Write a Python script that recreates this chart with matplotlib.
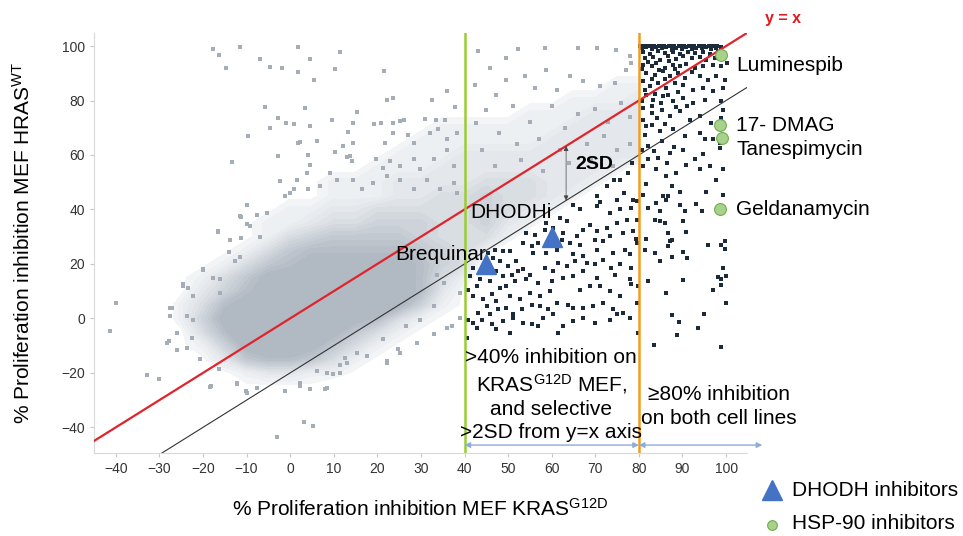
import numpy as np
import matplotlib.pyplot as plt
from matplotlib.lines import Line2D
from matplotlib.colors import LinearSegmentedColormap, Normalize

plt.rcParams['font.family'] = ['Liberation Sans', 'DejaVu Sans']
plt.rcParams['mathtext.fontset'] = 'custom'
plt.rcParams['mathtext.rm'] = 'Liberation Sans'
plt.rcParams['mathtext.it'] = 'Liberation Sans:italic'
plt.rcParams['mathtext.bf'] = 'Liberation Sans:bold'

# ── Data ──────────────────────────────────────────────────────────────────────
# density of the unselected compound cloud (0 = empty, 9 = solid)
grid_x = [-30, -25, -20, -15, -10, -5, 0, 5, 10, 15, 20, 25, 30, 35, 40,
          45, 50, 55, 60, 65, 70, 75, 80]
grid_y = [90, 85, 80, 75, 70, 65, 60, 55, 50, 45, 40, 35, 30, 25, 20, 15,
          10, 5, 0, -5, -10, -15, -20, -25, -30]
density_rows = [
    "000000000000000" "00011111",
    "000000000000000" "00111122",
    "000000000000011" "11112223",
    "000000000000111" "11222333",
    "000000000001122" "22223333",
    "000000000011222" "22233333",
    "000000000112223" "33333333",
    "000000001122233" "33333320",
    "000000012223333" "44433200",
    "000000112223344" "54432000",
    "000001223344444" "54320000",
    "000012234455544" "53200000",
    "000112456666544" "42000000",
    "000124677777654" "20000000",
    "001246788888754" "00000000",
    "012468888888742" "00000000",
    "013578999998731" "00000000",
    "024789999998521" "00000000",
    "025899999874211" "00000000",
    "014799998642110" "00000000",
    "012589986421100" "00000000",
    "001367764210000" "00000000",
    "000123322100000" "00000000",
    "000011110000000" "00000000",
    "000000000000000" "00000000",
]

# sparse unselected compounds (KRAS inhibition, HRAS inhibition)
gray_pts = [
    (-17.6, 98.8), (-16.4, 96.7), (-14.7, 92.0), (-11.6, 99.5), (-7.0, 95.2), (-4.7, 92.4),
    (-1.9, 92.0), (1.8, 90.3), (1.9, 99.7), (4.6, 95.2), (5.4, 87.5), (10.2, 91.7),
    (11.5, 97.9), (21.6, 91.0), (-5.7, 77.5), (-9.6, 67.0), (-13.4, 57.3), (3.3, 77.4),
    (-2.7, 73.5), (-4.6, 70.0), (2.3, 64.9), (15.3, 75.9), (22.2, 80.2), (23.7, 80.8),
    (35.9, 83.6), (32.6, 80.2), (37.8, 77.8), (-16.6, 31.7), (-13.9, 28.9), (-11.3, 29.5),
    (-11.3, 37.2), (-9.8, 34.8), (-7.6, 38.0), (-2.7, 59.8), (4.2, 60.1), (13.8, 59.7),
    (-0.9, 71.8), (0.9, 71.5), (4.6, 70.8), (9.6, 72.8), (14.5, 71.8), (19.3, 71.5),
    (20.8, 71.8), (23.7, 71.8), (25.1, 72.4), (26.1, 72.8), (31.0, 73.3), (33.5, 72.8),
    (35.5, 72.8), (13.2, 68.6), (14.5, 64.5), (12.2, 63.3), (21.8, 64.5), (23.7, 68.1),
    (27.1, 67.5), (28.3, 64.5), (32.1, 68.1), (34.0, 69.4), (36.0, 65.7), (38.2, 68.1),
    (1.9, 64.5), (6.1, 65.1), (10.3, 61.0), (13.0, 59.3), (14.1, 57.7), (19.7, 58.6),
    (21.4, 55.3), (23.0, 57.7), (25.2, 55.9), (28.3, 58.4), (29.8, 54.7), (32.9, 58.4),
    (36.0, 62.0), (37.5, 55.9), (4.6, 56.5), (3.8, 53.5), (1.5, 51.0), (-2.3, 50.4),
    (-1.1, 44.9), (0.8, 47.4), (4.2, 47.4), (6.9, 48.6), (9.2, 53.5), (10.7, 51.0),
    (14.5, 51.0), (16.4, 47.4), (19.1, 49.8), (22.2, 52.3), (25.2, 51.0), (28.3, 47.4),
    (31.3, 51.0), (34.4, 47.4), (37.5, 49.8), (38.2, 46.1),
    (-16.5, 32.0), (-19.9, 18.0), (-24.5, 11.9), (-27.5, 4.0), (-23.7, 0.8), (-22.2, 8.2),
    (-9.2, 33.8), (-5.3, 38.8), (0.0, 46.0), (-11.5, 22.7), (-14.0, 24.5), (-7.0, 30.0),
    (-39.9, 5.7), (-41.3, -4.6), (-32.9, -20.9), (-30.0, -22.1), (-24.6, 12.5), (-23.5, 11.2),
    (-27.1, 3.9), (-27.9, -8.3), (-26.0, -11.6), (-18.2, -24.8), (-12.2, -24.2), (-10.1, -26.6),
    (-7.6, -25.4), (-1.1, -26.6), (2.3, -24.8), (4.6, -26.0), (8.0, -25.8), (3.2, -38.0),
    (5.2, -39.4), (-3.1, -43.7), (12.6, -14.4), (9.9, -20.5), (22.2, -15.6), (24.8, -11.4),
    (32.9, -5.9), (37.1, -2.8), (35.2, 13.1), (33.6, 16.1), (39.0, 9.4), (29.8, -0.4),
    (26.6, -2.8), (21.4, -7.7), (29.1, -8.9), (-19.9, 17.9), (-17.6, 14.9), (-16.1, 9.4),
    (-22.2, -0.4), (-22.5, -7.1), (-23.7, -10.7), (-20.6, -15.0), (-16.4, -18.7), (11.5, -17.2),
    (6.1, -19.3), (15.3, -12.6), (-18.3, -25.0), (-12.2, -23.8), (-9.9, -27.3), (2.3, -23.6),
    (8.4, -25.4), (22.2, -16.2), (25.2, -12.6), (35.9, -3.4), (39.0, 0.3), (32.9, 4.5),
    (17.6, -13.8), (13.0, -16.2), (11.5, -19.9), (8.4, -19.9), (-27.5, 0.8), (-26.0, -5.2),
    (-28.3, -8.9), (-11.5, 37.5), (-12.6, 21.0), (-16.1, 14.3), (-9.9, 41.8),
    (52.3, 98.9), (58.4, 99.3), (66.0, 99.3), (70.3, 99.3), (74.8, 98.6), (43.1, 98.0),
    (49.6, 95.6), (77.9, 96.2), (42.4, 85.8), (47.3, 82.2), (49.6, 87.7), (53.8, 88.9),
    (56.1, 84.6), (61.1, 84.0), (64.1, 88.9), (67.2, 87.0), (71.0, 85.2), (74.5, 86.4),
    (77.1, 91.3), (78.3, 93.8), (58.8, 91.3), (45.8, 91.9), (42.7, 71.8), (45.0, 76.7),
    (51.1, 77.9), (55.0, 72.0), (60.0, 78.0), (63.0, 70.0), (66.0, 75.0), (70.0, 77.0),
    (73.0, 72.0), (76.0, 79.0), (78.0, 74.0), (48.0, 68.0), (52.0, 64.0), (57.0, 66.0),
    (62.0, 62.0), (68.0, 64.0), (72.0, 67.0), (75.0, 62.0), (44.0, 62.0), (47.0, 56.0),
    (53.0, 58.0), (58.0, 54.0), (64.0, 57.0), (69.0, 58.0), (74.0, 56.0), (78.0, 64.0),
]

# selected compounds (>40% on KRAS and >2SD below y=x, or >=80% on both)
sel_pts = [
    (75.7, 50.9), (77.6, 53.4), (78.4, 57.0), (74.2, 50.9), (72.6, 48.5), (76.5, 46.0),
    (74.9, 43.6), (70.3, 44.8), (78.7, 43.6),
    (64.9, 41.8), (66.6, 40.0), (70.3, 41.2), (71.1, 42.6), (73.4, 38.7), (75.7, 40.0),
    (78.3, 40.5), (61.9, 36.9), (63.4, 35.7), (68.8, 34.4), (67.2, 32.6), (70.3, 32.0),
    (72.6, 33.2), (74.9, 35.0), (77.2, 36.3), (58.8, 35.1), (60.4, 33.2), (62.6, 31.4),
    (65.7, 30.2), (58.4, 32.6), (56.1, 30.8), (54.2, 31.4), (53.5, 27.7), (55.4, 26.5),
    (56.9, 27.7), (59.6, 28.3), (62.3, 28.9), (64.2, 27.7), (66.5, 27.1), (69.9, 28.9),
    (71.8, 28.3), (73.4, 30.2), (76.4, 31.4), (78.7, 32.0), (55.8, 24.1), (58.8, 24.1),
    (61.1, 25.3), (64.9, 23.5), (67.2, 22.8), (70.3, 25.3), (74.1, 24.1), (76.8, 25.3),
    (77.9, 23.5), (79.5, 27.7), (47.0, 25.0), (48.9, 24.7), (50.4, 24.7), (51.9, 21.0),
    (53.5, 18.0), (52.3, 17.3), (50.0, 19.2), (48.1, 21.0), (46.6, 22.2), (45.4, 24.1),
    (47.3, 17.3), (48.9, 15.5), (50.8, 16.1), (44.3, 17.3), (42.0, 18.6), (41.2, 15.5),
    (43.5, 14.3), (45.8, 13.7), (42.8, 11.9), (40.8, 10.6), (42.0, 8.2), (44.3, 7.0),
    (46.2, 8.8), (48.1, 11.2), (49.6, 11.9), (51.6, 13.7), (54.2, 14.3), (55.0, 16.1),
    (56.9, 13.1), (58.4, 18.6), (60.4, 17.3), (60.0, 13.7), (61.5, 20.4), (63.4, 19.2),
    (65.3, 21.0), (68.0, 20.4), (69.9, 19.8), (71.8, 21.6), (73.7, 18.6), (75.7, 19.8),
    (78.3, 18.6), (62.6, 14.9), (64.9, 15.5), (67.2, 17.3), (70.3, 14.9), (74.5, 16.1),
    (77.9, 14.3), (66.5, 10.6), (68.8, 11.9), (71.1, 11.9), (73.4, 10.0), (75.7, 8.2),
    (78.3, 12.5), (59.6, 10.0), (57.3, 8.2), (55.0, 9.4), (52.7, 7.0), (50.4, 8.2),
    (47.3, 6.4), (45.1, 4.5), (43.1, 2.1), (42.0, -1.6), (40.8, -0.4), (43.9, -0.4),
    (45.8, 1.5), (47.7, 3.3), (49.6, 3.9), (51.2, 1.5), (53.1, 3.3), (55.4, 5.1),
    (57.3, 4.5), (59.2, 3.3), (61.1, 5.7), (63.8, 5.1), (64.9, 3.9), (67.2, 3.9),
    (69.5, 4.5), (71.8, 5.7), (74.1, 3.3), (76.4, 2.1), (77.9, 0.3), (42.8, -3.4),
    (46.2, -2.2), (48.9, -1.0), (51.2, 0.3), (53.5, -1.6), (55.4, -2.2), (58.1, 0.3),
    (60.4, 1.5), (62.6, -2.8), (64.9, -1.0), (67.2, 0.3), (69.9, -1.6), (73.4, -0.4),
    (74.9, 1.5), (61.5, -5.2), (56.9, -2.8), (47.3, -4.0), (40.5, -7.1), (50.4, -5.2),
    (79.5, 43.0), (79.6, 36.0), (79.4, 29.0), (79.7, 12.0), (79.5, 5.7), (79.8, -5.3),
    # >= 80 on both
    (80.3, 100), (81.1, 100), (82.0, 100), (82.6, 100), (83.4, 100), (84.5, 100),
    (85.0, 100), (85.8, 100), (86.9, 100), (87.2, 100), (88.0, 100), (89.1, 100),
    (89.5, 100), (90.3, 100), (91.4, 100), (92.0, 100), (92.7, 100), (93.8, 100),
    (94.1, 100), (95.0, 100), (96.0, 100), (96.4, 100), (97.3, 100), (98.0, 100),
    (80.6, 99.3), (81.7, 99.6), (82.9, 98.9), (84.0, 99.5), (85.2, 99.1), (86.3, 99.6),
    (87.5, 98.7), (88.6, 99.4), (89.8, 99.0), (90.9, 99.6), (92.1, 98.8), (93.2, 99.4),
    (94.4, 99.1), (95.5, 99.5), (96.6, 98.9), (97.8, 99.4), (98.9, 99.6),
    (81.0, 97.7), (82.5, 97.2), (84.4, 98.0), (86.0, 97.4), (87.9, 97.7), (89.4, 97.2),
    (91.3, 97.9), (92.8, 97.4), (94.7, 97.7), (96.3, 97.2), (98.2, 97.9),
    (81.3, 95.6), (83.3, 96.0), (84.8, 95.0), (86.7, 96.2), (88.6, 95.2), (90.1, 96.2),
    (92.1, 95.5), (94.0, 96.0), (95.5, 95.0), (97.4, 95.6), (99.3, 96.2),
    (81.0, 93.2), (82.9, 92.6), (84.0, 93.8), (86.0, 92.0), (87.9, 93.2), (89.4, 92.6),
    (90.9, 93.5), (92.8, 92.0), (94.7, 92.8), (97.0, 93.2), (98.9, 92.6), (100.3, 93.8),
    (81.7, 90.1), (83.6, 89.5), (85.6, 90.7), (87.1, 88.9), (89.0, 90.1), (90.5, 88.3),
    (92.1, 90.3), (94.0, 88.9), (95.9, 87.7), (97.8, 89.1), (99.7, 87.7),
    (81.0, 87.1), (82.5, 85.2), (84.4, 86.4), (86.3, 84.6), (88.2, 86.4), (90.1, 85.8),
    (92.4, 84.0), (94.7, 84.6), (97.0, 83.4), (99.3, 84.6),
    (81.7, 82.2), (83.3, 80.3), (85.6, 81.6), (87.9, 79.7), (90.1, 81.0), (92.4, 79.1),
    (95.1, 80.3), (98.9, 79.7), (81.0, 77.3), (82.9, 75.5), (85.2, 76.7), (87.1, 74.2),
    (89.4, 76.1), (91.7, 73.0), (94.0, 74.2), (96.6, 71.8), (99.3, 76.7), (98.9, 73.6),
    (81.7, 70.6), (84.8, 68.8), (87.9, 69.4), (90.5, 66.9), (94.0, 68.1), (97.0, 65.7),
    (95.1, 65.7), (98.6, 64.5), (82.1, 63.3), (84.4, 59.0), (87.1, 60.8), (90.1, 62.0),
    (92.8, 58.4), (94.7, 60.2), (98.6, 62.6), (81.0, 55.9), (84.0, 54.7), (86.3, 52.3),
    (88.6, 53.5), (90.9, 56.5), (94.0, 54.7), (96.3, 55.9), (97.8, 51.0), (99.3, 54.7),
    (81.7, 49.2), (87.5, 48.6),
    (80.8, 91.5), (82.2, 94.3), (83.0, 88.0), (84.6, 91.2), (85.9, 87.9), (86.8, 94.5),
    (88.3, 91.6), (81.5, 84.0), (83.8, 82.5), (85.0, 79.0), (86.7, 81.9), (88.9, 83.2),
    (80.6, 79.8), (82.9, 78.0), (84.1, 73.5), (86.0, 71.5), (80.9, 73.0), (83.1, 71.0),
    (88.5, 77.5), (91.0, 78.0), (81.4, 67.5), (85.4, 65.0), (88.0, 63.0), (83.5, 61.5),
    (82.0, 58.5), (80.7, 62.0), (86.5, 57.0),
    (81.0, 45.4), (85.6, 44.8), (86.7, 45.0), (89.4, 46.3), (95.5, 46.3), (99.3, 45.4),
    (82.1, 40.5), (84.0, 42.4), (84.8, 39.3), (86.3, 43.6), (89.4, 41.8), (90.5, 39.3),
    (93.2, 42.1), (94.4, 39.3), (83.6, 36.3), (84.8, 35.7), (86.0, 35.0), (90.1, 35.7),
    (86.7, 31.4), (90.9, 31.6), (81.7, 29.2), (87.1, 28.3), (87.7, 28.7), (86.7, 26.5),
    (81.3, 25.3), (83.6, 24.1), (84.9, 21.2), (87.5, 22.5), (90.1, 24.3), (91.1, 22.2),
    (95.9, 27.1), (98.9, 27.1), (99.7, 28.6), (99.7, 25.6), (99.3, 18.6), (98.2, 15.3),
    (98.9, 14.3), (99.9, 15.7), (98.8, 12.1), (97.0, 10.3), (90.1, 14.0), (82.1, 13.9),
    (86.2, 9.3), (99.9, 5.7), (87.5, 1.2), (95.0, 1.8), (89.2, -1.3), (93.6, -3.4),
    (88.8, -6.1), (83.5, -9.7), (98.8, -10.5),
]

dhodh_names = ['Brequinar', 'DHODHi']
dhodh_x = [45, 60]
dhodh_y = [20, 30]

hsp_names = ['Luminespib', '17- DMAG', 'Tanespimycin', 'Geldanamycin']
hsp_x = [98.8, 98.6, 99.0, 98.6]
hsp_y = [96.7, 71.0, 66.2, 40.0]

two_sd = 20      # offset of the selectivity line from y = x
kras_cut = 40    # % inhibition on KRAS G12D MEF
both_cut = 80    # % inhibition on both lines

# ── Figure ────────────────────────────────────────────────────────────────────
fig = plt.figure(figsize=(9.63, 5.36), dpi=100)
ax = fig.add_axes([0.0976, 0.1549, 0.6781, 0.7836])
ax.set_xlim(-45, 104.8)
ax.set_ylim(-49.4, 104.8)

# cloud shading, light where compounds are sparse, darker in the crowded core
density = np.array([[int(c) for c in row] for row in density_rows])
cloud_cmap = LinearSegmentedColormap.from_list(
    'cloud', ['#f2f4f6', '#dfe3e7', '#c8ced5', '#b1b9c2'])
ax.contourf(grid_x, grid_y, density, levels=np.arange(1.25, 10, 0.5),
            cmap=cloud_cmap, norm=Normalize(1.5, 7.5), extend='neither', zorder=1)

gx, gy = zip(*gray_pts)
ax.scatter(gx, gy, s=5, marker='s', color='#a5aeb8', linewidths=0, zorder=2)
sx, sy = zip(*sel_pts)
ax.scatter(sx, sy, s=5, marker='s', color='#1c2b3b', linewidths=0, zorder=2)

# reference lines
x_line = np.array(ax.get_xlim())
ax.plot(x_line, x_line, color='#e0242b', lw=1.6, zorder=3)
ax.plot(x_line, x_line - two_sd, color='#333333', lw=0.8, zorder=3)
ax.axvline(kras_cut, color='#9acd32', lw=1.8, zorder=3)
ax.axvline(both_cut, color='#f39c1f', lw=1.8, zorder=3)

# 2SD arrow
x_sd = 63.3
ax.annotate('', xy=(x_sd, x_sd - two_sd), xytext=(x_sd, x_sd),
            arrowprops=dict(arrowstyle='<|-|>', color='#444444', lw=0.5,
                            mutation_scale=7, shrinkA=0, shrinkB=0), zorder=4)
ax.text(65.4, 56.4, '2SD', fontsize=14, fontweight='bold', va='center', zorder=5)

# highlighted compounds
ax.plot(dhodh_x, dhodh_y, '^', ms=14, color='#4472c4', zorder=5)
ax.plot(hsp_x, hsp_y, 'o', ms=8.5, mfc='#a9d18e', mec='#70ad47', mew=0.8, zorder=5)

ax.text(24.1, 23.4, dhodh_names[0], fontsize=15, va='center', zorder=6)
ax.text(41.3, 39.0, dhodh_names[1], fontsize=15, va='center', zorder=6)
for name, ty in zip(hsp_names, [93.0, 71.0, 62.0, 40.0]):
    ax.text(102.3, ty, name, fontsize=15, va='center', zorder=6)

# region descriptions
ax.text(59.9, -10.8,
        '>40% inhibition on\nKRAS$^{\\mathrm{G12D}}$ MEF,\nand selective\n>2SD from y=x axis',
        ha='center', va='top', fontsize=15, linespacing=1.27, zorder=6)
ax.text(98.4, -24.6, '\u226580% inhibition\non both cell lines',
        ha='center', va='top', fontsize=15, linespacing=1.3, zorder=6)

arrow_kw = dict(arrowstyle='<|-|>', color='#8faadc', lw=1,
                mutation_scale=8, shrinkA=0, shrinkB=0)
ax.annotate('', xy=(kras_cut, -46.5), xytext=(both_cut, -46.5),
            arrowprops=arrow_kw, annotation_clip=False)
ax.annotate('', xy=(both_cut, -46.5), xytext=(108.3, -46.5),
            arrowprops=arrow_kw, annotation_clip=False)

fig.text(0.794, 0.966, 'y = x', color='#e3191c', fontsize=11.5,
         fontweight='bold', va='center')

# ── Axes styling ──────────────────────────────────────────────────────────────
ax.set_xticks(range(-40, 101, 10))
ax.set_yticks(range(-40, 101, 20))
ax.tick_params(labelsize=10, labelcolor='#333333', color='#c8c8c8', length=3)
for side in ['top', 'right']:
    ax.spines[side].set_visible(False)
for side in ['left', 'bottom']:
    ax.spines[side].set_color('#d9d9d9')

ax.set_xlabel('% Proliferation inhibition MEF KRAS$^{\\mathrm{G12D}}$',
              fontsize=15, labelpad=16)
ax.set_ylabel('% Proliferation inhibition MEF HRAS$^{\\mathrm{WT}}$',
              fontsize=15, labelpad=20)

# ── Legend ────────────────────────────────────────────────────────────────────
fig.add_artist(Line2D([0.802], [0.0858], marker='^', ms=14, color='#4472c4',
                      transform=fig.transFigure))
fig.text(0.8225, 0.0858, 'DHODH inhibitors', fontsize=15, va='center')
fig.add_artist(Line2D([0.802], [0.021], marker='o', ms=7, mfc='#a9d18e',
                      mec='#70ad47', mew=0.8, transform=fig.transFigure))
fig.text(0.8225, 0.023, 'HSP-90 inhibitors', fontsize=15, va='center')

plt.savefig('out.png', dpi=100)
plt.close()
